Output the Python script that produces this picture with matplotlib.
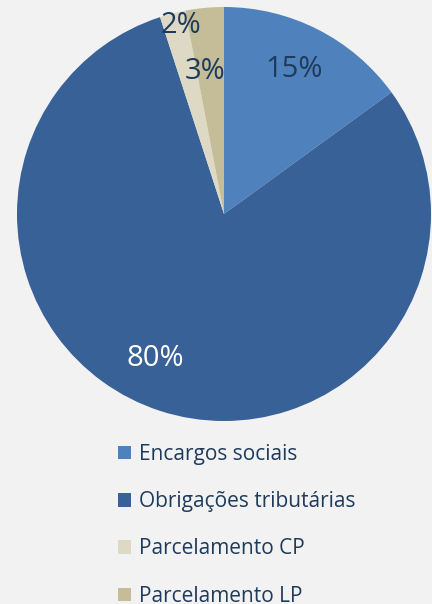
import matplotlib.pyplot as plt
from matplotlib.patches import Patch

labels = ["Encargos sociais", "Obrigações tributárias", "Parcelamento CP", "Parcelamento LP"]
values = [15, 80, 2, 3]
colors = ["#4F81BD", "#386198", "#DDD9C4", "#C4BD97"]
pct_colors = ["#1F3B5C", "white", "#1F3B5C", "#1F3B5C"]
# where each percentage label sits, in pie radius units
pct_pos = [(0.34, 0.70), (-0.33, -0.70), (-0.21, 0.91), (-0.09, 0.69)]

W, H = 432, 604
fig = plt.figure(figsize=(W / 100, H / 100), dpi=100)
fig.patch.set_facecolor("#F2F2F2")
plt.rcParams["font.family"] = ["Open Sans", "DejaVu Sans"]

cx, cy, r = 224, 214, 207
ax = fig.add_axes([(cx - r) / W, (H - cy - r) / H, 2 * r / W, 2 * r / H])
wedges, texts, autotexts = ax.pie(values, colors=colors, startangle=90, counterclock=False,
                                  autopct="%1.0f%%", radius=1,
                                  wedgeprops=dict(linewidth=0))
ax.set_xlim(-1, 1)
ax.set_ylim(-1, 1)
ax.set_aspect("equal")
ax.axis("off")

for t, p, c in zip(autotexts, pct_pos, pct_colors):
    t.set_position(p)
    t.set_color(c)
    t.set_fontsize(21)

handles = [Patch(facecolor=c, edgecolor="none") for c in colors]
leg = fig.legend(handles, labels, loc="upper left", bbox_to_anchor=(118 / W, 1 - 444 / H),
                 frameon=False, fontsize=15, labelspacing=1.26, handlelength=0.62,
                 handleheight=0.62, handletextpad=0.4, borderpad=0, borderaxespad=0,
                 labelcolor="#1F3B5C")

fig.savefig("out.png", dpi=100, facecolor=fig.get_facecolor())
